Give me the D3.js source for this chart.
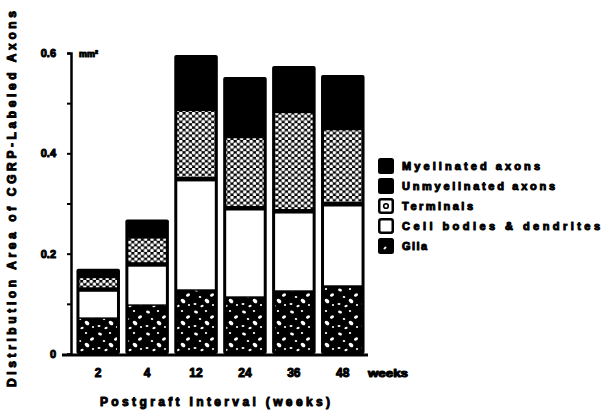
<!DOCTYPE html>
<html>
<head>
<meta charset="utf-8">
<script src="https://cdn.jsdelivr.net/npm/d3@7"></script>
<style>
  html, body { margin: 0; padding: 0; background: #fff; }
  svg { display: block; }
  text { font-family: "Liberation Sans", Arial, sans-serif; font-weight: bold; fill: #000; stroke: #000; stroke-width: 1px; stroke-linejoin: round; }
</style>
</head>
<body>
<svg id="chart" width="604" height="419"></svg>
<script>
// Postgraft intervals (weeks)
const intervals = ["2", "4", "12", "24", "36", "48"];

// Distribution area (mm²) of each component, stacked bottom to top
const glia         = [0.070, 0.096, 0.126, 0.112, 0.124, 0.134];
const cellBodies   = [0.060, 0.084, 0.224, 0.180, 0.162, 0.166];
const terminals    = [0.027, 0.056, 0.140, 0.144, 0.200, 0.152];
const unmyelinated = [0.005, 0.012, 0.040, 0.045, 0.034, 0.040];
const myelinated   = [0.008, 0.020, 0.066, 0.071, 0.054, 0.064];

const yTicks = [0, 0.1, 0.2, 0.3, 0.4, 0.5, 0.6];
const yTickLabels = { 0: "0", 0.2: "0.2", 0.4: "0.4", 0.6: "0.6" };

const seriesKeys = ["glia", "cellBodies", "terminals", "unmyelinated", "myelinated"];
const seriesNames = {
  myelinated: "Myelinated axons",
  unmyelinated: "Unmyelinated axons",
  terminals: "Terminals",
  cellBodies: "Cell bodies & dendrites",
  glia: "Glia"
};

const rows = intervals.map((w, i) => ({
  week: w,
  glia: glia[i],
  cellBodies: cellBodies[i],
  terminals: terminals[i],
  unmyelinated: unmyelinated[i],
  myelinated: myelinated[i]
}));

const svg = d3.select("#chart");
const defs = svg.append("defs");

// Terminals: honeycomb of white dots on black
const tw = 6.4, th = 5.6;
const pT = defs.append("pattern").attr("id", "pat-term")
  .attr("patternUnits", "userSpaceOnUse").attr("width", tw).attr("height", th);
pT.append("rect").attr("width", tw).attr("height", th).attr("fill", "#000");
[[tw / 4, th / 4], [tw * 3 / 4, th * 3 / 4], [-tw / 4, th * 3 / 4], [tw * 5 / 4, th / 4]].forEach(([cx, cy]) =>
  pT.append("circle").attr("cx", cx).attr("cy", cy).attr("r", 1.75).attr("fill", "#fff"));

// Glia: black with scattered white flecks
const pG = defs.append("pattern").attr("id", "pat-glia")
  .attr("patternUnits", "userSpaceOnUse").attr("width", 24).attr("height", 22);
pG.append("rect").attr("width", 24).attr("height", 22).attr("fill", "#000");
[[4, 4, 2.0, 1.4, 20], [14, 3, 1.2, 1.0, 0], [20, 9, 2.2, 1.5, -30],
 [8, 11, 1.3, 1.0, 10], [15, 15, 2.6, 1.8, 40], [3, 18, 1.5, 1.0, 0],
 [10, 20, 1.7, 1.1, -20], [21, 19, 1.1, 1.0, 0]].forEach(([cx, cy, rx, ry, a]) =>
  pG.append("ellipse").attr("cx", cx).attr("cy", cy).attr("rx", rx).attr("ry", ry)
    .attr("transform", `rotate(${a},${cx},${cy})`).attr("fill", "#fff"));

const fills = {
  glia: "url(#pat-glia)",
  cellBodies: "#fff",
  terminals: "url(#pat-term)",
  unmyelinated: "#000",
  myelinated: "#000"
};

const x = d3.scaleBand().domain(intervals).range([74, 367]).paddingInner(0.11).paddingOuter(0.05);
const y = d3.scaleLinear().domain([0, 0.6]).range([354, 53]);

const stacked = d3.stack().keys(seriesKeys)(rows);

// Bars: a black body with each component inset inside a black border
const barG = svg.append("g");
barG.selectAll("rect.body").data(rows).join("rect")
  .attr("class", "body")
  .attr("x", d => x(d.week))
  .attr("width", x.bandwidth())
  .attr("y", d => y(d3.sum(seriesKeys, k => d[k])))
  .attr("height", d => y(0) - y(d3.sum(seriesKeys, k => d[k])))
  .attr("rx", 2)
  .attr("fill", "#000");

const inset = 3;
stacked.forEach(layer => {
  if (layer.key === "unmyelinated" || layer.key === "myelinated") return;
  barG.selectAll(null).data(layer).join("rect")
    .attr("x", d => x(d.data.week) + inset)
    .attr("width", x.bandwidth() - 2 * inset)
    .attr("y", d => y(d[1]) + (layer.key === "glia" ? 0 : inset))
    .attr("height", d => Math.max(0, y(d[0]) - y(d[1]) - (layer.key === "glia" ? 0 : inset * 1.5)))
    .attr("fill", fills[layer.key]);
});

// Y axis
const yAxis = d3.axisLeft(y).tickValues(yTicks)
  .tickFormat(d => yTickLabels[d] || "")
  .tickSize(4).tickPadding(11);
const yG = svg.append("g").attr("transform", "translate(71,0)").call(yAxis);
yG.select(".domain").attr("stroke", "#000").attr("stroke-width", 2.5);
yG.selectAll(".tick line").attr("stroke", "#000").attr("stroke-width", 2);
yG.selectAll(".tick text").attr("font-size", 11).attr("font-family", null);

// Unit label
svg.append("text").attr("x", 79).attr("y", 57).attr("font-size", 9).text("mm²");

// X axis baseline
svg.append("line").attr("x1", 62).attr("x2", 368).attr("y1", 355).attr("y2", 355)
  .attr("stroke", "#000").attr("stroke-width", 3);

const xAxis = d3.axisBottom(x).tickSize(0).tickPadding(14);
const xG = svg.append("g").attr("transform", "translate(0,354)").call(xAxis);
xG.select(".domain").remove();
xG.selectAll(".tick text").attr("font-size", 12).attr("font-family", null);

svg.append("text").attr("x", 368).attr("y", 377).attr("font-size", 10)
  .attr("textLength", 40).attr("lengthAdjust", "spacingAndGlyphs").text("weeks");

// Axis titles
svg.append("text").attr("x", 215).attr("y", 406).attr("text-anchor", "middle")
  .attr("font-size", 12).attr("textLength", 230).attr("lengthAdjust", "spacing")
  .text("Postgraft Interval (weeks)");

svg.append("text").attr("transform", "translate(16,199) rotate(-90)")
  .attr("text-anchor", "middle").attr("font-size", 12)
  .attr("textLength", 376).attr("lengthAdjust", "spacing")
  .text("Distribution Area of CGRP-Labeled Axons");

// Legend
const legendKeys = ["myelinated", "unmyelinated", "terminals", "cellBodies", "glia"];
const legendWidths = { myelinated: 138, unmyelinated: 153, terminals: 71, cellBodies: 198, glia: 25 };
const lg = svg.append("g");
legendKeys.forEach((k, i) => {
  const cy = 166 + i * 20;
  const g = lg.append("g").attr("transform", `translate(378,${cy - 8})`);
  if (k === "myelinated" || k === "unmyelinated") {
    g.append("rect").attr("width", 16).attr("height", 16).attr("rx", 2.5).attr("fill", "#000");
  } else if (k === "terminals") {
    g.append("rect").attr("x", 1.25).attr("y", 1.25).attr("width", 13.5).attr("height", 13.5).attr("rx", 2)
      .attr("fill", "#fff").attr("stroke", "#000").attr("stroke-width", 2.5);
    g.append("circle").attr("cx", 8).attr("cy", 8).attr("r", 2.3).attr("fill", "#fff")
      .attr("stroke", "#000").attr("stroke-width", 1.6);
  } else if (k === "cellBodies") {
    g.append("rect").attr("x", 1.25).attr("y", 1.25).attr("width", 13.5).attr("height", 13.5).attr("rx", 2)
      .attr("fill", "#fff").attr("stroke", "#000").attr("stroke-width", 2.5);
  } else {
    g.append("rect").attr("width", 16).attr("height", 16).attr("rx", 2.5).attr("fill", "#000");
    g.append("ellipse").attr("cx", 7).attr("cy", 10).attr("rx", 1.8).attr("ry", 1)
      .attr("transform", "rotate(-45,7,10)").attr("fill", "#fff");
  }
  lg.append("text").attr("x", 402).attr("y", cy + 4).attr("font-size", 11)
    .attr("textLength", legendWidths[k]).attr("lengthAdjust", "spacing")
    .text(seriesNames[k]);
});
</script>
</body>
</html>
